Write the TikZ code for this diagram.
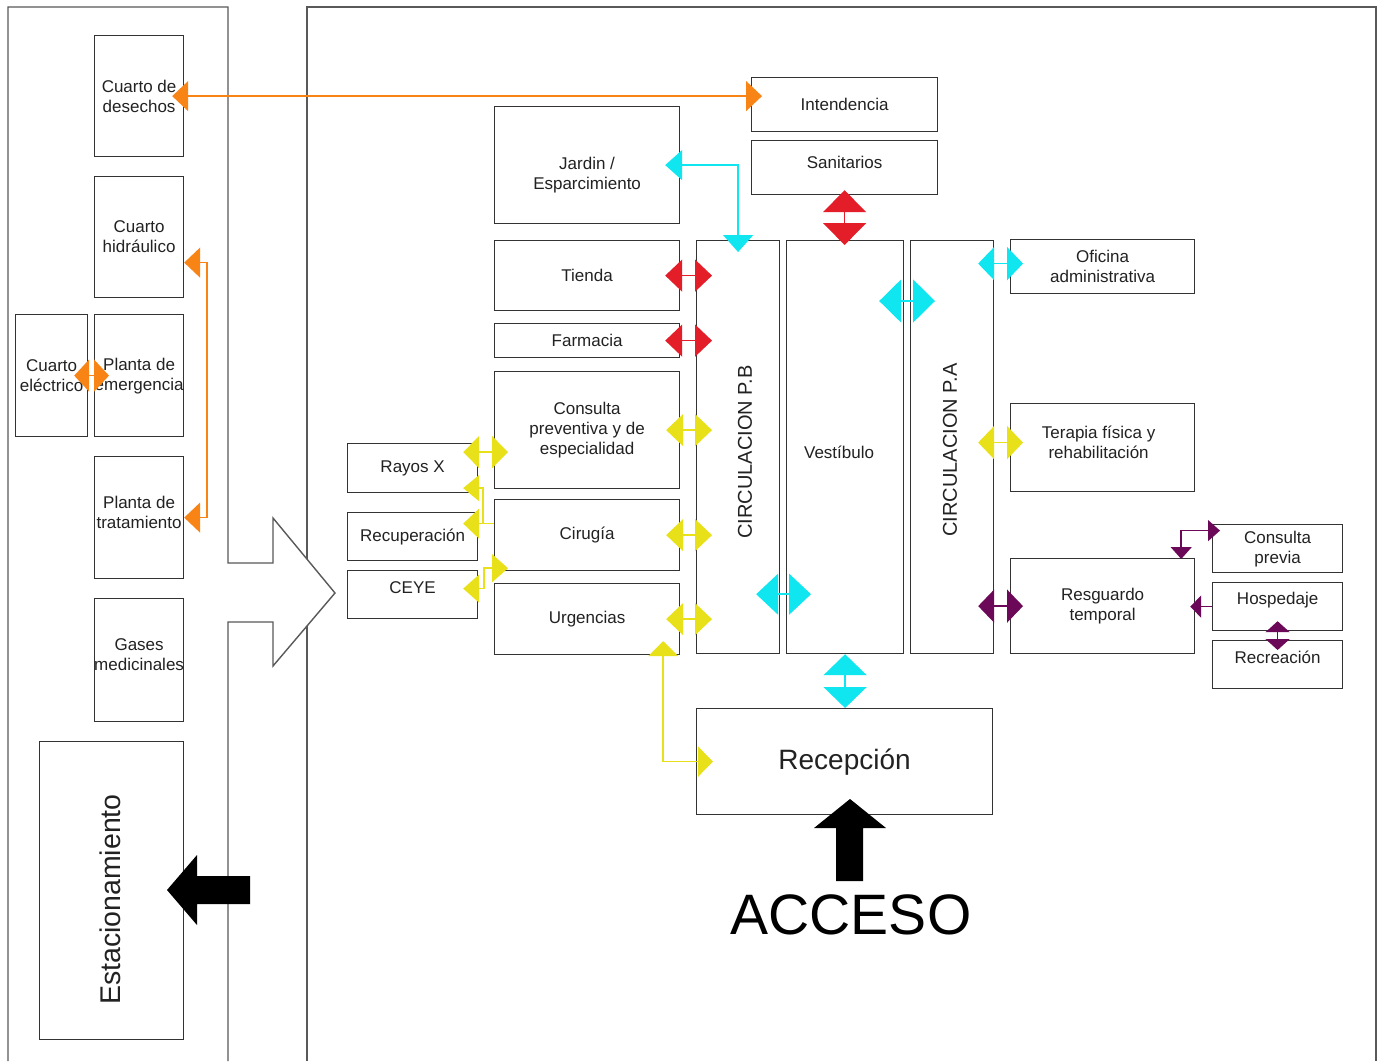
\documentclass[tikz,border=0pt]{standalone}
\usepackage{fontspec}
\setmainfont{Liberation Sans}
\usetikzlibrary{arrows.meta,calc}
\definecolor{org}{RGB}{249,132,22}
\definecolor{rd}{RGB}{228,30,40}
\definecolor{cy}{RGB}{16,230,240}
\definecolor{yl}{RGB}{232,224,24}
\definecolor{pu}{RGB}{108,8,88}
\definecolor{txt}{RGB}{34,34,34}
\tikzset{
  box/.style={draw=black!80, line width=1.2pt, inner sep=0pt, align=center, text=txt, anchor=north west},
  sz/.style 2 args={minimum width=#1, minimum height=#2},
  lbl/.style={inner sep=0pt, align=center, text=txt},
  frame/.style={draw=black!65, line width=1.4pt},
  cn/.style={draw=#1, line width=1.6pt, <->},
  tips/.style 2 args={>={Triangle[length=#1,width=#2]}},
  ext/.style 2 args={shorten <=-#1, shorten >=-#2},
}
\begin{document}
\begin{tikzpicture}[x=1pt,y=-1pt, font=\fontsize{17}{20}\selectfont]
\useasboundingbox[fill=white] (0,0) rectangle (1378,1061);

% frames and the open arrow between them
\draw[frame] (8,1061) -- (8,7) -- (228,7) -- (228,563) -- (273,563) -- (273,518)
  -- (335,593) -- (273,666) -- (273,622) -- (228,622) -- (228,1061);
\draw[frame] (307,559) -- (307,7) -- (1376,7) -- (1376,1061);
\draw[frame] (307,626) -- (307,1061);

% left column
\node[box, sz={89pt}{121pt}] (des) at (94,35) {Cuarto de\\desechos};
\node[box, sz={89pt}{121pt}] (hid) at (94,176) {Cuarto\\hidráulico};
\node[box, sz={72pt}{122pt}] (ele) at (15,314) {Cuarto\\eléctrico};
\node[box, sz={89pt}{122pt}] (eme) at (94,314) {Planta de\\emergencia};
\node[box, sz={89pt}{122pt}] (tra) at (94,456) {};
\node[lbl] (tral) at ($(tra.center)+(0,-5)$) {Planta de\\tratamiento};
\node[box, sz={89pt}{123pt}] (gas) at (94,598) {};
\node[lbl] (gasl) at ($(gas.center)+(0,-5)$) {Gases\\medicinales};
\node[box, sz={144pt}{298pt}] (est) at (39,741) {};
\node[lbl, rotate=90, font=\fontsize{28.5}{32}\selectfont] (estl) at ($(est.center)+(-1,9)$) {Estacionamiento};

% main area
\node[box, sz={186pt}{54pt}] (int) at (751,77) {Intendencia};
\node[box, sz={186pt}{54pt}] (san) at (751,140) {};
\node[lbl] (sanl) at ($(san.center)+(0,-5)$) {Sanitarios};
\node[box, sz={185pt}{117pt}] (jar) at (494,106) {};
\node[lbl] (jarl) at ($(jar.center)+(0,10)$) {Jardin /\\Esparcimiento};
\node[box, sz={185pt}{70pt}] (tie) at (494,240) {Tienda};
\node[box, sz={185pt}{34pt}] (far) at (494,323) {Farmacia};
\node[box, sz={185pt}{117pt}] (con) at (494,371) {Consulta\\preventiva y de\\especialidad};
\node[box, sz={185pt}{71pt}] (cir) at (494,499) {Cirugía};
\node[box, sz={185pt}{71pt}] (urg) at (494,583) {Urgencias};
\node[box, sz={130pt}{49pt}] (ray) at (347,443) {Rayos X};
\node[box, sz={130pt}{48pt}] (rcu) at (347,512) {Recuperación};
\node[box, sz={130pt}{48pt}] (cey) at (347,570) {};
\node[lbl] (ceyl) at ($(cey.center)+(0,-7)$) {CEYE};
\node[box, sz={83pt}{413pt}] (cpb) at (696,240) {};
\node[lbl, rotate=90, font=\fontsize{20}{24}\selectfont] (cpbl) at ($(cpb.center)+(7,5)$) {CIRCULACION P.B};
\node[box, sz={117pt}{413pt}] (ves) at (786,240) {};
\node[lbl] (vesl) at ($(ves.center)+(-6,5)$) {Vestíbulo};
\node[box, sz={83pt}{413pt}] (cpa) at (910,240) {};
\node[lbl, rotate=90, font=\fontsize{20}{24}\selectfont] (cpal) at ($(cpa.center)+(-2,3)$) {CIRCULACION P.A};
\node[box, sz={184pt}{54pt}] (ofi) at (1010,239) {Oficina\\administrativa};
\node[box, sz={184pt}{88pt}] (ter) at (1010,403) {};
\node[lbl] (terl) at ($(ter.center)+(-4,-5)$) {Terapia física y\\rehabilitación};
\node[box, sz={184pt}{95pt}] (res) at (1010,558) {Resguardo\\temporal};
\node[box, sz={130pt}{48pt}] (cpr) at (1212,524) {Consulta\\previa};
\node[box, sz={130pt}{48pt}] (hos) at (1212,582) {};
\node[lbl] (hosl) at ($(hos.center)+(0,-7)$) {Hospedaje};
\node[box, sz={130pt}{48pt}] (rcr) at (1212,640) {};
\node[lbl] (rcrl) at ($(rcr.center)+(0,-7)$) {Recreación};
\node[box, sz={296pt}{106pt}, font=\fontsize{28}{32}\selectfont] (rcp) at (696,708) {Recepción};
\node[lbl, font=\fontsize{57}{60}\selectfont, text=black] (acc) at (851,915) {ACCESO};

% orange connectors
\draw[cn=org, tips={16pt}{30pt}, ext={12pt}{11pt}] (des.east) -- (des.east -| int.west);
\draw[cn=org, tips={16pt}{30pt}] ($(hid.east)+(0,25.5)$) -- ++(23,0) |- (tra.east);
\draw[cn=org, tips={15pt}{32pt}, ext={14pt}{15pt}] (ele.east) -- (eme.west);

% red connectors
\draw[cn=rd, tips={17pt}{32pt}, ext={15pt}{16pt}] (tie.east) -- (tie.east -| cpb.west);
\draw[cn=rd, tips={17pt}{32pt}, ext={15pt}{16pt}] (far.east) -- (far.east -| cpb.west);
\draw[cn=rd, tips={22pt}{43pt}, ext={5pt}{5pt}] (san.south) -- (san.south |- ves.north);

% cyan connectors
\draw[cn=cy, tips={17pt}{30pt}, ext={15pt}{12pt}] (jar.east) -| (cpb.north);
\draw[cn=cy, tips={22pt}{43pt}, ext={25pt}{25pt}] ($(ves.north east)+(0,61)$) -- ($(cpa.north west)+(0,61)$);
\draw[cn=cy, tips={22pt}{41pt}, ext={24pt}{25pt}] ($(cpb.south east)+(0,-60)$) -- ($(ves.south west)+(0,-60)$);
\draw[cn=cy, tips={21pt}{43pt}] (ves.south) -- (ves.south |- rcp.north);
\draw[cn=cy, tips={16pt}{33pt}, ext={16pt}{13pt}] ($(ofi.west -| cpa.east)+(0,-3)$) -- ($(ofi.west)+(0,-3)$);

% yellow connectors
\draw[cn=yl, tips={16pt}{33pt}, ext={16pt}{13pt}] ($(ter.west -| cpa.east)+(0,-5)$) -- ($(ter.west)+(0,-5)$);
\draw[cn=yl, tips={17pt}{32pt}, ext={14pt}{16pt}] (con.east) -- (con.east -| cpb.west);
\draw[cn=yl, tips={17pt}{32pt}, ext={14pt}{16pt}] (cir.east) -- (cir.east -| cpb.west);
\draw[cn=yl, tips={17pt}{32pt}, ext={14pt}{16pt}] (urg.east) -- (urg.east -| cpb.west);
\draw[cn=yl, tips={16pt}{32pt}, ext={15pt}{14pt}] ($(ray.east)+(0,-16)$) -- ($(ray.east -| con.west)+(0,-16)$);
\draw[cn=yl, ->, tips={16pt}{26pt}, shorten >=-15pt] ($(cir.west)+(0,-11.5)$) -- ++(-11,0) |- ($(ray.east)+(0,20)$);
\draw[cn=yl, ->, tips={16pt}{30pt}, shorten >=-15pt] ($(cir.west)+(0,-11.5)$) -- ($(cir.west -| rcu.east)+(0,-11.5)$);
\draw[cn=yl, tips={16pt}{28pt}, ext={15pt}{14pt}] ($(cey.east)+(0,-6)$) -- ++(6,0) |- ($(cir.south west)+(0,-3)$);
\draw[cn=yl, tips={15pt}{30pt}, ext={14pt}{17pt}] ($(urg.south east)+(-17,0)$) |- (rcp.west);

% purple connectors
\draw[cn=pu, tips={16pt}{33pt}, ext={16pt}{13pt}] (res.west -| cpa.east) -- (res.west);
\draw[cn=pu, tips={12pt}{21pt}, ext={1pt}{8pt}] ($(res.north east)+(-14,0)$) |- ($(cpr.west)+(0,-18)$);
\draw[cn=pu, ->, tips={11pt}{22pt}, shorten >=-5pt] (hos.west) -- (hos.west -| res.east);
\draw[cn=pu, tips={11pt}{24pt}, ext={10pt}{10pt}] (hos.south) -- (rcr.north);

% black block arrows
\fill[black] (836,881) -- (836,828) -- (814,828) -- (850,799) -- (886,828) -- (863,828) -- (863,881) -- cycle;
\fill[black] (250,876) -- (197,876) -- (197,855) -- (167,890) -- (197,925) -- (197,904) -- (250,904) -- cycle;
\end{tikzpicture}
\end{document}
